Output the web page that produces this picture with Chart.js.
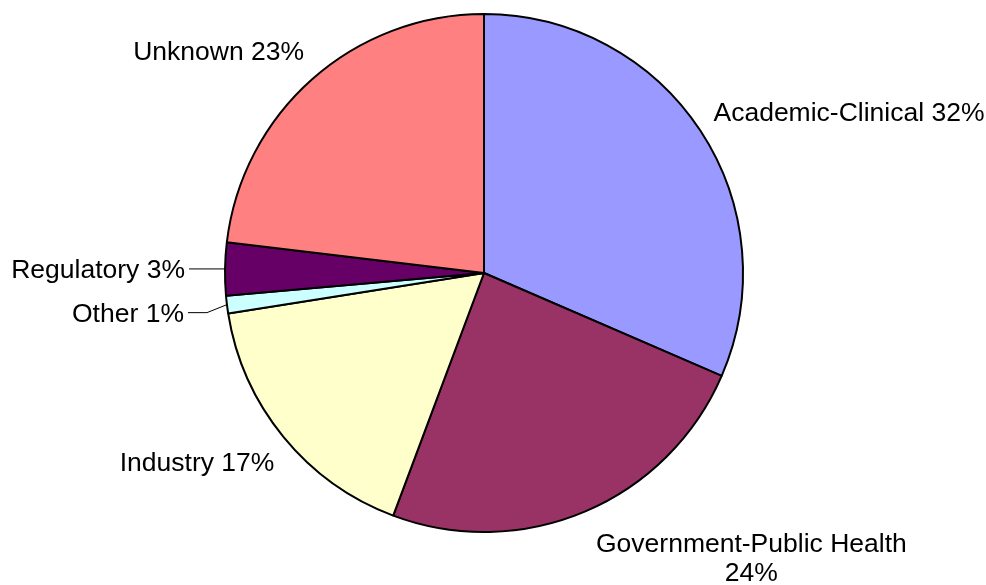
<!DOCTYPE html>
<html>
<head>
<meta charset="utf-8">
<script src="https://cdn.jsdelivr.net/npm/chart.js@4/dist/chart.umd.min.js"></script>
<style>
  html, body { margin: 0; padding: 0; background: #fff; }
  canvas { display: block; }
</style>
</head>
<body>
<canvas id="chart" width="986" height="585"></canvas>
<script>
const categorias = ["Academic-Clinical", "Government-Public Health", "Industry", "Other", "Regulatory", "Unknown"];
const valores = [31.5, 24.2, 16.8, 1.1, 3.3, 23.1];
const colores = ["#9999FF", "#993366", "#FFFFCC", "#CCFFFF", "#660066", "#FF8080"];

// donde va cada etiqueta respecto al borde del sector (dx, dy de la linea base)
const posEtiquetas = [
  { dx: 13, dy: -10, align: "left" },
  { dx: 166, dy: 41, align: "center", dosLineas: true },
  { dx: -9, dy: 34, align: "right" },
  { dx: -43, dy: 17, align: "right", guia: true },
  { dx: -40, dy: 9, align: "right", guia: true },
  { dx: -8, dy: -19, align: "right" }
];

const etiquetasPlugin = {
  id: "etiquetas",
  afterDatasetsDraw(chart) {
    const ctx = chart.ctx;
    const meta = chart.getDatasetMeta(0);
    const total = valores.reduce((a, b) => a + b, 0);
    ctx.save();
    ctx.font = "26.5px 'Liberation Sans', Arial, sans-serif";
    ctx.fillStyle = "#000";
    ctx.textBaseline = "alphabetic";
    meta.data.forEach((arc, i) => {
      const p = arc.getProps(["x", "y", "startAngle", "endAngle", "outerRadius"], true);
      const mid = (p.startAngle + p.endAngle) / 2;
      const ax = p.x + Math.cos(mid) * p.outerRadius;
      const ay = p.y + Math.sin(mid) * p.outerRadius;
      const pos = posEtiquetas[i];
      const pct = Math.round(valores[i] / total * 100) + "%";
      const tx = ax + pos.dx;
      const ty = ay + pos.dy;
      ctx.textAlign = pos.align;
      if (pos.dosLineas) {
        ctx.fillText(categorias[i], tx, ty);
        ctx.fillText(pct, tx, ty + 29);
      } else {
        ctx.fillText(categorias[i] + " " + pct, tx, ty);
      }
      if (pos.guia) {
        const ly = ty - 9;
        ctx.beginPath();
        ctx.lineWidth = 1;
        ctx.strokeStyle = "#000";
        ctx.moveTo(tx + 4, ly);
        if (Math.abs(ly - ay) > 3) {
          ctx.lineTo(ax - 20, ly);
        }
        ctx.lineTo(ax, ay);
        ctx.stroke();
      }
    });
    ctx.restore();
  }
};

const ctx = document.getElementById("chart").getContext("2d");
const data = {
  labels: categorias,
  datasets: [{
    data: valores,
    backgroundColor: colores,
    borderColor: "#000",
    borderWidth: 2
  }]
};
const config = {
  type: "pie",
  data: data,
  options: {
    responsive: false,
    animation: false,
    layout: { padding: { top: 13, bottom: 52, left: 0, right: 18 } },
    plugins: {
      legend: { display: false },
      tooltip: { enabled: false }
    }
  },
  plugins: [etiquetasPlugin]
};

const chart = new Chart(ctx, config);
</script>
</body>
</html>
